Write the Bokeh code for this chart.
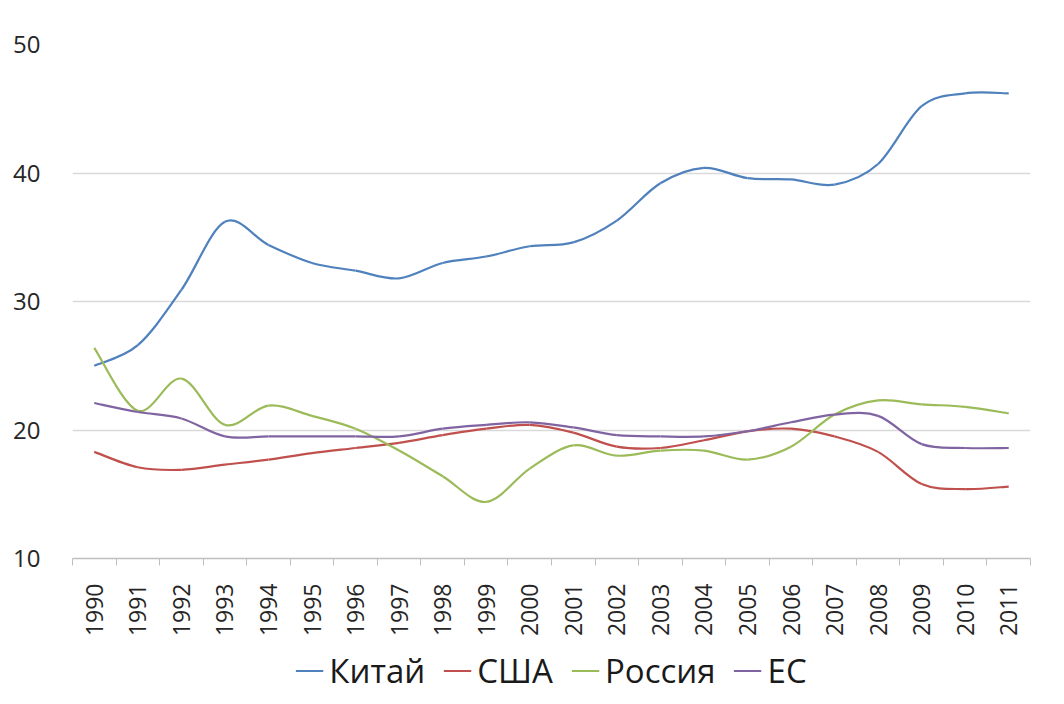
from bokeh.plotting import figure
from bokeh.layouts import column
from bokeh.models import (ColumnDataSource, FixedTicker, Range1d, Legend, LegendItem)
from bokeh.embed import file_html
from bokeh.resources import INLINE
import math

years = list(range(1990, 2012))
china = [25.0, 26.6, 30.9, 36.2, 34.4, 33.0, 32.4, 31.8, 33.0, 33.5, 34.3, 34.6,
         36.3, 39.2, 40.4, 39.6, 39.5, 39.1, 40.7, 45.2, 46.2, 46.2]
usa = [18.3, 17.1, 16.9, 17.3, 17.7, 18.2, 18.6, 19.0, 19.6, 20.1, 20.4, 19.8,
       18.7, 18.6, 19.2, 19.9, 20.1, 19.5, 18.3, 15.8, 15.4, 15.6]
russia = [26.4, 21.5, 24.0, 20.4, 21.9, 21.1, 20.1, 18.4, 16.4, 14.4, 17.0, 18.8,
          18.0, 18.4, 18.4, 17.7, 18.7, 21.2, 22.3, 22.0, 21.8, 21.3]
eu = [22.1, 21.4, 20.9, 19.5, 19.5, 19.5, 19.5, 19.5, 20.1, 20.4, 20.6, 20.2,
      19.6, 19.5, 19.5, 19.9, 20.6, 21.2, 21.1, 18.9, 18.6, 18.6]
series_names = ["Китай", "США", "Россия", "ЕС"]
series_values = [china, usa, russia, eu]
colors = ["#4F81BD", "#C0504D", "#9BBB59", "#8064A2"]
y_ticks = [10, 20, 30, 40, 50]

FONT = "Open Sans"


def smooth_segments(xs, ys):
    n = len(xs)
    d = dict(x0=[], y0=[], x1=[], y1=[], cx0=[], cy0=[], cx1=[], cy1=[])
    for i in range(n - 1):
        ip = max(i - 1, 0)
        inn = min(i + 2, n - 1)
        d["x0"].append(xs[i]); d["y0"].append(ys[i])
        d["x1"].append(xs[i + 1]); d["y1"].append(ys[i + 1])
        d["cx0"].append(xs[i] + (xs[i + 1] - xs[ip]) / 6.0)
        d["cy0"].append(ys[i] + (ys[i + 1] - ys[ip]) / 6.0)
        d["cx1"].append(xs[i + 1] - (xs[inn] - xs[i]) / 6.0)
        d["cy1"].append(ys[i + 1] - (ys[inn] - ys[i]) / 6.0)
    return ColumnDataSource(d)


p = figure(width=1048, height=640, output_backend="svg", toolbar_location=None,
           x_range=Range1d(years[0] - 0.5, years[-1] + 0.5),
           y_range=Range1d(y_ticks[0], y_ticks[-1]),
           min_border_left=72, min_border_top=44, min_border_right=18,
           min_border_bottom=82)
p.outline_line_color = None
p.background_fill_color = "white"

for name, vals, col in zip(series_names, series_values, colors):
    src = smooth_segments(years, vals)
    p.bezier(x0="x0", y0="y0", x1="x1", y1="y1", cx0="cx0", cy0="cy0",
             cx1="cx1", cy1="cy1", source=src, line_color=col, line_width=2.2)

# x axis
xa = p.xaxis[0]
xa.ticker = FixedTicker(ticks=years, minor_ticks=[y - 0.5 for y in years] + [years[-1] + 0.5])
xa.major_label_overrides = {y: str(y) for y in years}
xa.major_label_orientation = math.pi / 2
xa.major_tick_out = 0
xa.major_tick_in = 0
xa.minor_tick_out = 7
xa.minor_tick_in = 0
xa.minor_tick_line_color = "#bfbfbf"
xa.axis_line_color = "#bfbfbf"
xa.axis_line_width = 1.5
xa.major_label_text_font = FONT
xa.major_label_text_font_size = "23px"
xa.major_label_text_color = "#262626"
xa.major_label_standoff = 18

# y axis
ya = p.yaxis[0]
ya.ticker = FixedTicker(ticks=y_ticks)
ya.axis_line_color = None
ya.major_tick_line_color = None
ya.minor_tick_line_color = None
ya.major_label_text_font = FONT
ya.major_label_text_font_size = "24px"
ya.major_label_text_color = "#262626"
ya.major_label_standoff = 26

p.xgrid.grid_line_color = None
p.ygrid.ticker = FixedTicker(ticks=y_ticks)
p.ygrid.grid_line_color = "#d9d9d9"
p.ygrid.grid_line_width = 1.5

# legend strip below the chart
p2 = figure(width=1048, height=60, output_backend="svg", toolbar_location=None,
            x_range=Range1d(0, 1), y_range=Range1d(0, 1),
            x_axis_type=None, y_axis_type=None, min_border=0)
p2.outline_line_color = None
p2.xgrid.visible = False
p2.ygrid.visible = False

items = []
for name, col in zip(series_names, colors):
    r = p2.line(x=[5, 6], y=[5, 5], line_color=col, line_width=2.2)
    items.append(LegendItem(label=name, renderers=[r]))

legend = Legend(items=items, orientation="horizontal", location="center",
                label_text_font=FONT, label_text_font_size="33px",
                label_text_color="#1a1a1a",
                glyph_width=28, glyph_height=20, label_standoff=6, spacing=18,
                border_line_color=None, background_fill_alpha=0,
                padding=0, margin=0)
p2.add_layout(legend, "center")

layout = column(p, p2, spacing=0)
open("out.html", "w").write(file_html(layout, INLINE))
